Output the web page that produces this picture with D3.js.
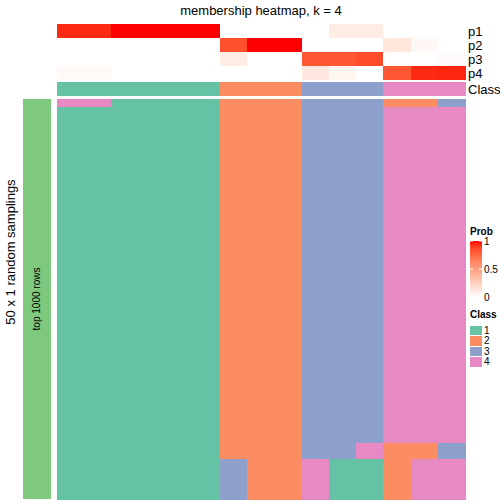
<!DOCTYPE html>
<html><head><meta charset="utf-8">
<script src="https://cdn.jsdelivr.net/npm/d3@7"></script>
<style>body{margin:0;background:#fff}svg{display:block}text{font-family:"Liberation Sans",Arial,sans-serif}rect{shape-rendering:crispEdges}</style>
</head><body><svg id="c" width="504" height="504"></svg>
<script>
const columns = d3.range(15);
const classRow = [1,1,1,1,1,1,2,2,2,3,3,3,4,4,4];
const p1 = [0.95,0.95,1,1,1,1,0,0,0,0,0.1,0.1,0,0,0];
const p2 = [0,0,0,0,0,0,0.85,1,1,0,0,0,0.13,0.04,0];
const p3 = [0,0,0,0,0,0,0.1,0,0,0.82,0.82,0.86,0,0,0.02];
const p4 = [0.03,0.03,0,0,0,0,0,0,0,0.12,0.05,0,0.82,0.95,0.96];
const probNames = ["p1","p2","p3","p4"];
// distinct sampling rows (class per column) and how many times each occurs, in order
const rowPatterns = [
  [4,4,1,1,1,1,2,2,2,3,3,3,2,2,3],
  [1,1,1,1,1,1,2,2,2,3,3,3,4,4,4],
  [1,1,1,1,1,1,2,2,2,3,3,4,2,2,3],
  [1,1,1,1,1,1,3,2,2,4,1,1,2,4,4]
];
const rowCounts = [1,42,2,5];
const classLabels = ["1","2","3","4"];
const probTicks = [0,0.5,1];

const classColor = d3.scaleOrdinal().domain([1,2,3,4]).range(["#66C2A5","#FC8D62","#8DA0CB","#E78AC3"]);
const probColor = d3.scaleLinear().domain([0,1]).range(["#FFFFFF","#FF0000"]).interpolate(d3.interpolateLab);

const rows = [];
rowPatterns.forEach((p,i)=>{ for(let k=0;k<rowCounts[i];k++) rows.push(p); });

const svg = d3.select("#c");
const x = d3.scaleBand().domain(columns).range([57,465]);
const yTop = d3.scaleBand().domain(probNames).range([24,80]);
const yMain = d3.scaleBand().domain(d3.range(rows.length)).range([99,499]);

svg.append("text").attr("x",261).attr("y",15).attr("text-anchor","middle").attr("font-size",13).text("membership heatmap, k = 4");

const probData = [p1,p2,p3,p4];
probNames.forEach((nm,r)=>{
  svg.append("g").selectAll("rect").data(columns).join("rect")
    .attr("x",d=>x(d)).attr("y",yTop(nm)).attr("width",x.bandwidth()+0.5).attr("height",yTop.bandwidth()+0.3)
    .attr("fill",d=>probColor(probData[r][d]));
  svg.append("text").attr("x",468).attr("y",yTop(nm)+yTop.bandwidth()/2).attr("dy","0.35em").attr("font-size",13).text(nm);
});
svg.append("g").selectAll("rect").data(columns).join("rect")
  .attr("x",d=>x(d)).attr("y",82).attr("width",x.bandwidth()+0.5).attr("height",14)
  .attr("fill",d=>classColor(classRow[d]));
svg.append("text").attr("x",468).attr("y",89).attr("dy","0.35em").attr("font-size",13).text("Class");

const g = svg.append("g");
rows.forEach((row,ri)=>{
  g.append("g").selectAll("rect").data(columns).join("rect")
   .attr("x",d=>x(d)).attr("y",yMain(ri)).attr("width",x.bandwidth()+0.5).attr("height",yMain.bandwidth()+0.5)
   .attr("fill",d=>classColor(row[d]));
});

svg.append("rect").attr("x",23).attr("y",99).attr("width",28).attr("height",400).attr("fill","#7FC97F");
svg.append("text").attr("transform","translate(40,299) rotate(-90)").attr("text-anchor","middle").attr("font-size",10).text("top 1000 rows");
svg.append("text").attr("transform","translate(15,252) rotate(-90)").attr("text-anchor","middle").attr("font-size",13).text("50 x 1 random samplings");

// Prob legend
svg.append("text").attr("x",470).attr("y",235).attr("font-size",10).attr("font-weight","bold").text("Prob");
const defs = svg.append("defs");
const grad = defs.append("linearGradient").attr("id","pg").attr("x1",0).attr("y1",1).attr("x2",0).attr("y2",0);
d3.range(0,1.01,0.1).forEach(t=>grad.append("stop").attr("offset",t).attr("stop-color",probColor(t)));
const yLeg = d3.scaleLinear().domain([0,1]).range([297,241]);
svg.append("rect").attr("x",470).attr("y",241).attr("width",12).attr("height",56).attr("fill","url(#pg)");
probTicks.forEach(t=>{
  svg.append("line").attr("x1",470).attr("x2",473).attr("y1",yLeg(t)).attr("y2",yLeg(t)).attr("stroke","#fff").attr("stroke-width",1);
  svg.append("line").attr("x1",479).attr("x2",482).attr("y1",yLeg(t)).attr("y2",yLeg(t)).attr("stroke","#fff").attr("stroke-width",1);
  svg.append("text").attr("x",484).attr("y",yLeg(t)).attr("dy","0.35em").attr("font-size",10).text(t===0.5?"0.5":String(t));
});

// Class legend
svg.append("text").attr("x",470).attr("y",318).attr("font-size",10).attr("font-weight","bold").text("Class");
const yCl = d3.scaleBand().domain(classLabels).range([325,367]);
classLabels.forEach((c,i)=>{
  svg.append("rect").attr("x",470).attr("y",yCl(c)+0.5).attr("width",12).attr("height",yCl.bandwidth()-1).attr("fill",classColor(i+1));
  svg.append("text").attr("x",484).attr("y",yCl(c)+yCl.bandwidth()/2).attr("dy","0.35em").attr("font-size",10).text(c);
});
</script></body></html>
